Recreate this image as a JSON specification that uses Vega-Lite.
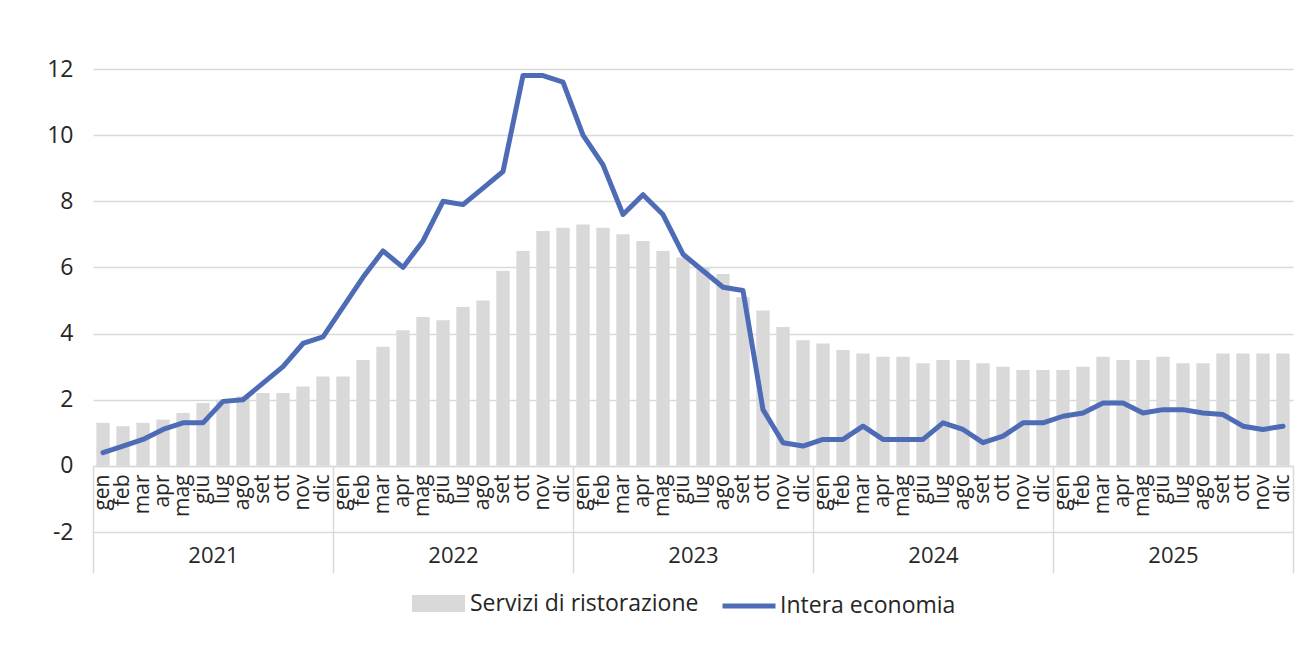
{
  "$schema": "https://vega.github.io/schema/vega-lite/v6.json",
  "width": 1200,
  "height": 463,
  "autosize": {"type": "none"},
  "padding": {"left": 93, "top": 69, "right": 18, "bottom": 136},
  "background": "white",
  "config": {"view": {"stroke": null}, "font": "Open Sans"},
  "data": {"values": [
    {"anno": "2021", "key": "2021-gen", "ristorazione": 1.3, "economia": 0.4},
    {"anno": "2021", "key": "2021-feb", "ristorazione": 1.2, "economia": 0.6},
    {"anno": "2021", "key": "2021-mar", "ristorazione": 1.3, "economia": 0.8},
    {"anno": "2021", "key": "2021-apr", "ristorazione": 1.4, "economia": 1.1},
    {"anno": "2021", "key": "2021-mag", "ristorazione": 1.6, "economia": 1.3},
    {"anno": "2021", "key": "2021-giu", "ristorazione": 1.9, "economia": 1.3},
    {"anno": "2021", "key": "2021-lug", "ristorazione": 2.0, "economia": 1.95},
    {"anno": "2021", "key": "2021-ago", "ristorazione": 2.1, "economia": 2.0},
    {"anno": "2021", "key": "2021-set", "ristorazione": 2.2, "economia": 2.5},
    {"anno": "2021", "key": "2021-ott", "ristorazione": 2.2, "economia": 3.0},
    {"anno": "2021", "key": "2021-nov", "ristorazione": 2.4, "economia": 3.7},
    {"anno": "2021", "key": "2021-dic", "ristorazione": 2.7, "economia": 3.9},
    {"anno": "2022", "key": "2022-gen", "ristorazione": 2.7, "economia": 4.8},
    {"anno": "2022", "key": "2022-feb", "ristorazione": 3.2, "economia": 5.7},
    {"anno": "2022", "key": "2022-mar", "ristorazione": 3.6, "economia": 6.5},
    {"anno": "2022", "key": "2022-apr", "ristorazione": 4.1, "economia": 6.0},
    {"anno": "2022", "key": "2022-mag", "ristorazione": 4.5, "economia": 6.8},
    {"anno": "2022", "key": "2022-giu", "ristorazione": 4.4, "economia": 8.0},
    {"anno": "2022", "key": "2022-lug", "ristorazione": 4.8, "economia": 7.9},
    {"anno": "2022", "key": "2022-ago", "ristorazione": 5.0, "economia": 8.4},
    {"anno": "2022", "key": "2022-set", "ristorazione": 5.9, "economia": 8.9},
    {"anno": "2022", "key": "2022-ott", "ristorazione": 6.5, "economia": 11.8},
    {"anno": "2022", "key": "2022-nov", "ristorazione": 7.1, "economia": 11.8},
    {"anno": "2022", "key": "2022-dic", "ristorazione": 7.2, "economia": 11.6},
    {"anno": "2023", "key": "2023-gen", "ristorazione": 7.3, "economia": 10.0},
    {"anno": "2023", "key": "2023-feb", "ristorazione": 7.2, "economia": 9.1},
    {"anno": "2023", "key": "2023-mar", "ristorazione": 7.0, "economia": 7.6},
    {"anno": "2023", "key": "2023-apr", "ristorazione": 6.8, "economia": 8.2},
    {"anno": "2023", "key": "2023-mag", "ristorazione": 6.5, "economia": 7.6},
    {"anno": "2023", "key": "2023-giu", "ristorazione": 6.3, "economia": 6.4},
    {"anno": "2023", "key": "2023-lug", "ristorazione": 6.0, "economia": 5.9},
    {"anno": "2023", "key": "2023-ago", "ristorazione": 5.8, "economia": 5.4},
    {"anno": "2023", "key": "2023-set", "ristorazione": 5.1, "economia": 5.3},
    {"anno": "2023", "key": "2023-ott", "ristorazione": 4.7, "economia": 1.7},
    {"anno": "2023", "key": "2023-nov", "ristorazione": 4.2, "economia": 0.7},
    {"anno": "2023", "key": "2023-dic", "ristorazione": 3.8, "economia": 0.6},
    {"anno": "2024", "key": "2024-gen", "ristorazione": 3.7, "economia": 0.8},
    {"anno": "2024", "key": "2024-feb", "ristorazione": 3.5, "economia": 0.8},
    {"anno": "2024", "key": "2024-mar", "ristorazione": 3.4, "economia": 1.2},
    {"anno": "2024", "key": "2024-apr", "ristorazione": 3.3, "economia": 0.8},
    {"anno": "2024", "key": "2024-mag", "ristorazione": 3.3, "economia": 0.8},
    {"anno": "2024", "key": "2024-giu", "ristorazione": 3.1, "economia": 0.8},
    {"anno": "2024", "key": "2024-lug", "ristorazione": 3.2, "economia": 1.3},
    {"anno": "2024", "key": "2024-ago", "ristorazione": 3.2, "economia": 1.1},
    {"anno": "2024", "key": "2024-set", "ristorazione": 3.1, "economia": 0.7},
    {"anno": "2024", "key": "2024-ott", "ristorazione": 3.0, "economia": 0.9},
    {"anno": "2024", "key": "2024-nov", "ristorazione": 2.9, "economia": 1.3},
    {"anno": "2024", "key": "2024-dic", "ristorazione": 2.9, "economia": 1.3},
    {"anno": "2025", "key": "2025-gen", "ristorazione": 2.9, "economia": 1.5},
    {"anno": "2025", "key": "2025-feb", "ristorazione": 3.0, "economia": 1.6},
    {"anno": "2025", "key": "2025-mar", "ristorazione": 3.3, "economia": 1.9},
    {"anno": "2025", "key": "2025-apr", "ristorazione": 3.2, "economia": 1.9},
    {"anno": "2025", "key": "2025-mag", "ristorazione": 3.2, "economia": 1.6},
    {"anno": "2025", "key": "2025-giu", "ristorazione": 3.3, "economia": 1.7},
    {"anno": "2025", "key": "2025-lug", "ristorazione": 3.1, "economia": 1.7},
    {"anno": "2025", "key": "2025-ago", "ristorazione": 3.1, "economia": 1.6},
    {"anno": "2025", "key": "2025-set", "ristorazione": 3.4, "economia": 1.55},
    {"anno": "2025", "key": "2025-ott", "ristorazione": 3.4, "economia": 1.2},
    {"anno": "2025", "key": "2025-nov", "ristorazione": 3.4, "economia": 1.1},
    {"anno": "2025", "key": "2025-dic", "ristorazione": 3.4, "economia": 1.2}
  ]},
  "layer": [
    {
      "encoding": {
        "x": {
          "field": "key", "type": "ordinal", "sort": null,
          "scale": {"paddingInner": 0.333, "paddingOuter": 0.1667},
          "axis": {
            "orient": "bottom", "offset": -66, "title": null, "domain": false, "ticks": false, "grid": false,
            "labelAngle": -90, "labelAlign": "right", "labelBaseline": "middle", "labelPadding": 8,
            "labelFontSize": 21, "labelColor": "#262626", "labelOverlap": false, "labelBound": false,
            "labelExpr": "split(datum.value, '-')[1]"
          }
        }
      },
      "layer": [
        {
          "mark": {"type": "bar"},
          "encoding": {
            "y": {
              "field": "ristorazione", "type": "quantitative", "stack": null,
              "scale": {"domain": [-2, 12], "nice": false, "zero": false},
              "axis": {
                "title": null, "values": [-2, 0, 2, 4, 6, 8, 10, 12], "domain": false, "ticks": false,
                "grid": true, "gridColor": "#d9d9d9", "gridWidth": 1.5,
                "labelFontSize": 23, "labelColor": "#262626", "labelPadding": 20,
                "labelExpr": "toString(datum.value)"
              }
            },
            "fill": {
              "datum": "Servizi di ristorazione",
              "scale": {"range": ["#d9d9d9"]},
              "legend": {
                "orient": "none", "legendX": 319, "legendY": 508, "title": null,
                "labelFontSize": 23, "labelColor": "#262626", "labelLimit": 400, "labelOffset": 5,
                "symbolType": "M-1,-0.32H1V0.32H-1Z", "symbolSize": 2809, "symbolStrokeWidth": 0
              }
            }
          }
        },
        {
          "mark": {"type": "line", "strokeWidth": 5, "strokeJoin": "round", "strokeCap": "round"},
          "encoding": {
            "y": {"field": "economia", "type": "quantitative", "axis": {"title": null}},
            "stroke": {
              "datum": "Intera economia",
              "scale": {"range": ["#4e6bb5"]},
              "legend": {
                "orient": "none", "legendX": 627, "legendY": 508, "title": null,
                "labelFontSize": 23, "labelColor": "#262626", "labelLimit": 400, "labelOffset": 2,
                "symbolType": "stroke", "symbolSize": 2809, "symbolStrokeWidth": 5
              }
            }
          }
        }
      ]
    },
    {
      "mark": {"type": "tick", "opacity": 0},
      "encoding": {
        "x": {
          "field": "anno", "type": "ordinal",
          "scale": {"paddingInner": 0, "paddingOuter": 0},
          "axis": {
            "orient": "bottom", "offset": -66, "title": null, "grid": false,
            "domain": true, "domainColor": "#d9d9d9", "domainWidth": 1.5,
            "ticks": true, "tickBand": "extent", "tickSize": 107, "tickColor": "#d9d9d9", "tickWidth": 1.5,
            "labelAngle": 0, "labelAlign": "center", "labelBaseline": "middle", "labelPadding": -18,
            "labelFontSize": 22, "labelColor": "#262626"
          }
        }
      }
    }
  ],
  "resolve": {"scale": {"x": "independent"}}
}
